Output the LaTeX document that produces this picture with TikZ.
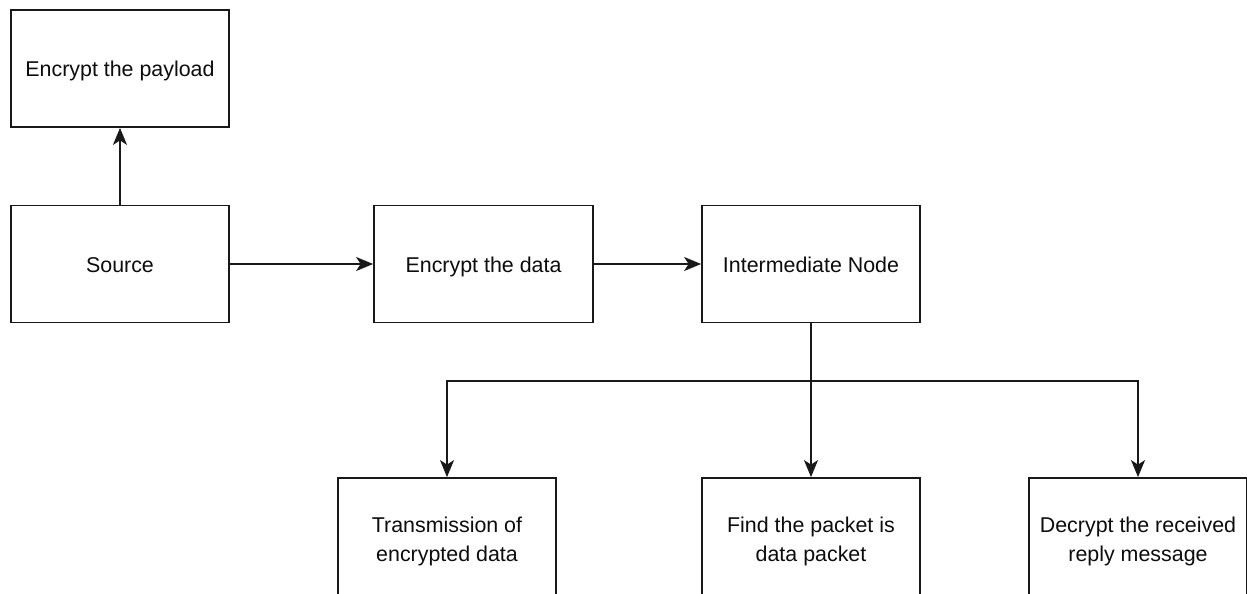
\documentclass[tikz,border=0pt]{standalone}
\usepackage{fontspec}
\setmainfont{Liberation Sans}
\usetikzlibrary{arrows.meta}
\begin{document}
\begin{tikzpicture}[x=1pt,y=-1pt,
  box/.style={draw=black!90, line width=1.8pt, fill=white, minimum width=218pt, minimum height=117pt, inner sep=0pt, align=center, text=black!95, font=\fontsize{21.4}{28.7}\selectfont},
  oneline/.style={text height=21pt, text depth=4pt},
  twoline/.style={minimum height=126.6pt},
  arr/.style={draw=black!90, line width=1.8pt, -{Stealth[length=17pt,width=14pt,inset=4.5pt]}}]
\useasboundingbox (0,0) rectangle (1247,594);
\clip (0,0) rectangle (1247,594);
\fill[white] (0,0) rectangle (1247,594);
\node[box, oneline] (pay) at (120,68.5) {Encrypt the payload};
\node[box, oneline] (src) at (120,264) {Source};
\node[box, oneline, minimum width=219pt] (enc) at (483.5,264) {Encrypt the data};
\node[box, oneline] (inter) at (811,264) {Intermediate Node};
\node[box, twoline] (trans) at (447,541.3) {Transmission of\\encrypted data};
\node[box, twoline] (find) at (811,541.3) {Find the packet is\\data packet};
\node[box, twoline] (dec) at (1138,541.3) {Decrypt the received\\reply message};
\coordinate (split) at (811,381);
\draw[arr] (src.north) -- (pay.south);
\draw[arr] (src.east) -- (enc.west);
\draw[arr] (enc.east) -- (inter.west);
\draw[arr] (inter.south) -- (find.north);
\draw[arr] (inter.south) -- (split) -| (trans.north);
\draw[arr] (split) -| (dec.north);
\end{tikzpicture}
\end{document}
